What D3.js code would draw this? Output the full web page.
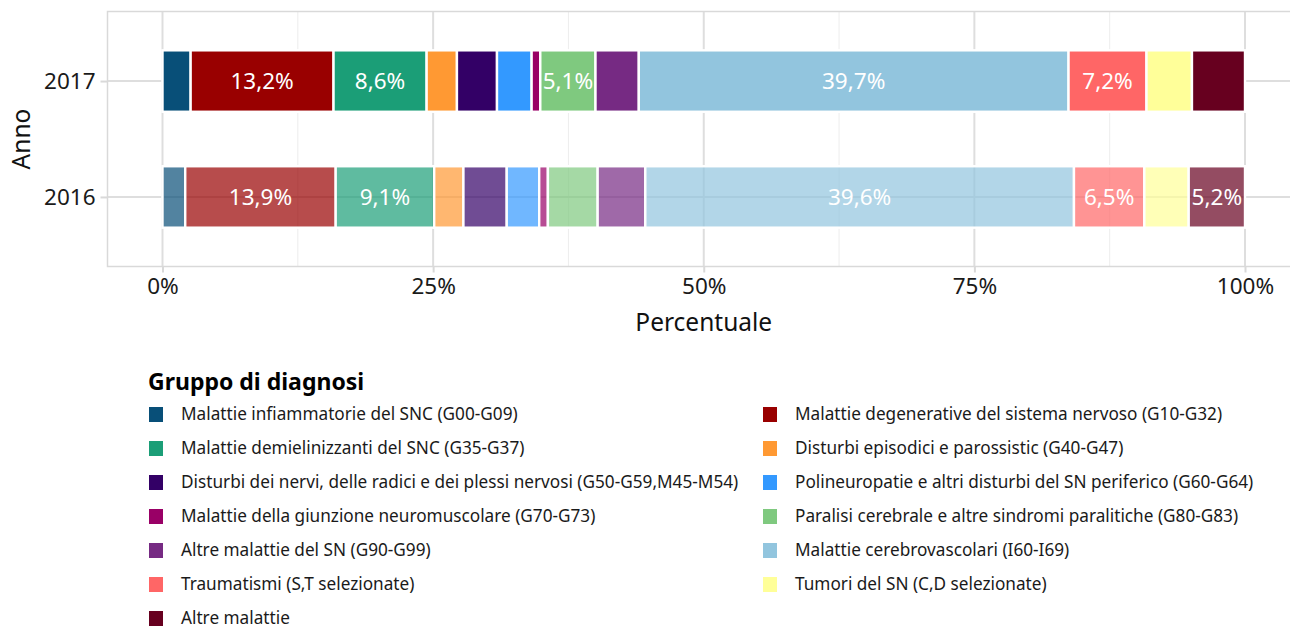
<!DOCTYPE html>
<html>
<head>
<meta charset="utf-8">
<script src="https://cdn.jsdelivr.net/npm/d3@7"></script>
<style>
  html, body { margin: 0; padding: 0; background: #fff; }
  svg { display: block; font-family: "Noto Sans", "Open Sans", sans-serif; }
</style>
</head>
<body>
<svg id="chart" width="1290" height="630"></svg>
<script>
const years = ["2016", "2017"];
const groups = [
  "Malattie infiammatorie del SNC (G00-G09)",
  "Malattie degenerative del sistema nervoso (G10-G32)",
  "Malattie demielinizzanti del SNC (G35-G37)",
  "Disturbi episodici e parossistic (G40-G47)",
  "Disturbi dei nervi, delle radici e dei plessi nervosi (G50-G59,M45-M54)",
  "Polineuropatie e altri disturbi del SN periferico (G60-G64)",
  "Malattie della giunzione neuromuscolare (G70-G73)",
  "Paralisi cerebrale e altre sindromi paralitiche (G80-G83)",
  "Altre malattie del SN (G90-G99)",
  "Malattie cerebrovascolari (I60-I69)",
  "Traumatismi (S,T selezionate)",
  "Tumori del SN (C,D selezionate)",
  "Altre malattie"
];
const colors = ["#084f78", "#990000", "#1b9e77", "#ff9933", "#330066", "#3399ff",
                "#990066", "#7fc97f", "#762a83", "#92c5de", "#ff6666", "#ffff99", "#67001f"];
const values2016 = [2.1, 13.9, 9.1, 2.7, 4.0, 3.0, 0.8, 4.6, 4.4, 39.6, 6.5, 4.1, 5.2];
const values2017 = [2.6, 13.2, 8.6, 2.8, 3.7, 3.2, 0.8, 5.1, 4.0, 39.7, 7.2, 4.2, 4.9];
const xTicks = [0, 25, 50, 75, 100];
const xMinor = [12.5, 37.5, 62.5, 87.5];
const labelThreshold = 5;

const svg = d3.select("#chart");
const panel = { left: 107.5, right: 1299, top: 11.5, bottom: 266.5 };

const x = d3.scaleLinear().domain([0, 100]).range([162.5, 1245]);
const y = d3.scaleLinear().domain([0.4, 2.6]).range([panel.bottom, panel.top]);
const yPos = { "2016": 1, "2017": 2 };
const barHalf = 0.265;

const fmt = v => d3.format(".1f")(v).replace(".", ",") + "%";

// panel grid
const g = svg.append("g");
g.selectAll("line.minor").data(xMinor).join("line")
  .attr("x1", d => x(d)).attr("x2", d => x(d))
  .attr("y1", panel.top).attr("y2", panel.bottom)
  .attr("stroke", "#ededed").attr("stroke-width", 1);
g.selectAll("line.major").data(xTicks).join("line")
  .attr("x1", d => x(d)).attr("x2", d => x(d))
  .attr("y1", panel.top).attr("y2", panel.bottom)
  .attr("stroke", "#dedede").attr("stroke-width", 2);
g.selectAll("line.hmajor").data(years).join("line")
  .attr("x1", panel.left).attr("x2", panel.right)
  .attr("y1", d => y(yPos[d])).attr("y2", d => y(yPos[d]))
  .attr("stroke", "#dedede").attr("stroke-width", 2);

// stacked bars
const series = { "2016": values2016, "2017": values2017 };
const alpha = { "2016": 0.7, "2017": 1 };
years.forEach(yr => {
  const vals = series[yr];
  const total = d3.sum(vals);
  let cum = 0;
  const segs = vals.map((v, i) => {
    const s = { i, v, x0: cum / total * 100, x1: (cum + v) / total * 100 };
    cum += v;
    return s;
  });
  const yc = yPos[yr];
  const bg = svg.append("g");
  bg.selectAll("rect").data(segs).join("rect")
    .attr("x", d => x(d.x0)).attr("width", d => x(d.x1) - x(d.x0))
    .attr("y", y(yc + barHalf)).attr("height", y(yc - barHalf) - y(yc + barHalf))
    .attr("fill", d => colors[d.i]).attr("fill-opacity", alpha[yr])
    .attr("stroke", "#ffffff").attr("stroke-width", 2.4);
  bg.selectAll("text").data(segs.filter(d => d.v >= labelThreshold)).join("text")
    .attr("x", d => x((d.x0 + d.x1) / 2)).attr("y", y(yc))
    .attr("dy", "0.36em").attr("text-anchor", "middle")
    .attr("fill", "#ffffff").attr("font-size", 22.5)
    .text(d => fmt(d.v));
});

// panel border
svg.append("rect")
  .attr("x", panel.left).attr("y", panel.top)
  .attr("width", panel.right - panel.left).attr("height", panel.bottom - panel.top)
  .attr("fill", "none").attr("stroke", "#d9d9d9").attr("stroke-width", 1.5);

// x axis
const xAxis = svg.append("g").attr("transform", `translate(0,${panel.bottom})`)
  .call(d3.axisBottom(x).tickValues(xTicks).tickSize(6).tickPadding(6).tickFormat(d => d + "%"));
xAxis.select(".domain").remove();
xAxis.selectAll(".tick line").attr("stroke", "#d9d9d9").attr("stroke-width", 2);
xAxis.selectAll(".tick text").attr("font-size", 22.5).attr("fill", "#1a1a1a")
  .attr("font-family", "Noto Sans, sans-serif");

// y axis
const yAxis = svg.append("g").attr("transform", `translate(${panel.left},0)`)
  .call(d3.axisLeft(y).tickValues(years.map(d => yPos[d])).tickSize(7).tickPadding(5)
    .tickFormat(d => years.find(yr => yPos[yr] === d)));
yAxis.select(".domain").remove();
yAxis.selectAll(".tick line").attr("stroke", "#d9d9d9").attr("stroke-width", 2);
yAxis.selectAll(".tick text").attr("font-size", 22.5).attr("fill", "#1a1a1a")
  .attr("font-family", "Noto Sans, sans-serif");

// axis titles
svg.append("text").attr("x", x(50)).attr("y", 331)
  .attr("text-anchor", "middle").attr("font-size", 24.5).attr("fill", "#111")
  .text("Percentuale");
svg.append("text").attr("transform", `translate(30,${(panel.top + panel.bottom) / 2}) rotate(-90)`)
  .attr("text-anchor", "middle").attr("font-size", 24.5).attr("fill", "#111")
  .text("Anno");

// legend
svg.append("text").attr("x", 148).attr("y", 390)
  .attr("font-size", 23).attr("font-weight", "bold").attr("fill", "#000")
  .text("Gruppo di diagnosi");
const colX = [149, 763];
const rowY0 = 414.5, rowStep = 34;
const leg = svg.append("g");
const items = leg.selectAll("g").data(groups).join("g")
  .attr("transform", (d, i) => `translate(${colX[i % 2]},${rowY0 + Math.floor(i / 2) * rowStep})`);
items.append("rect").attr("x", 0).attr("y", -7.5).attr("width", 14).attr("height", 15)
  .attr("fill", (d, i) => colors[i]);
items.append("text").attr("x", 32).attr("y", 0).attr("dy", "0.33em")
  .attr("font-size", 17.2).attr("fill", "#1a1a1a").text(d => d);
</script>
</body>
</html>
